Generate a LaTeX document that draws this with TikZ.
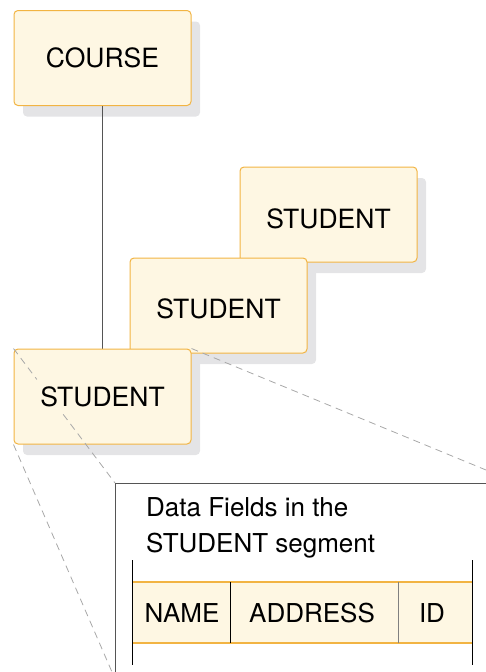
\documentclass[tikz,border=0pt]{standalone}
\usepackage{fontspec}
\setmainfont{TeX Gyre Heros}
\usetikzlibrary{shadows,calc}
\definecolor{BoxFill}{HTML}{FEF7E3}
\definecolor{BoxEdge}{HTML}{F2B443}
\definecolor{ShadowGray}{HTML}{E4E4E6}
\definecolor{LinkGray}{HTML}{555555}
\definecolor{DashGray}{HTML}{A8A8A8}
\tikzset{
  segbox/.style={draw=BoxEdge, fill=BoxFill, line width=1pt, rounded corners=4pt,
    minimum width=177pt, minimum height=95pt, inner sep=0pt,
    font=\fontsize{26.5}{31}\selectfont,
    drop shadow={shadow xshift=9pt, shadow yshift=-11pt, fill=ShadowGray, opacity=1}},
  zoomline/.style={DashGray, line width=0.8pt, dash pattern=on 7pt off 5pt},
  fieldtxt/.style={font=\fontsize{26}{31}\selectfont, inner sep=0pt}
}

\begin{document}
\begin{tikzpicture}[x=1pt,y=-1pt]
    \useasboundingbox (0,0) rectangle (486,672);
    % segments
    \node[segbox] (course) at (102.5,58) {COURSE};
    \node[segbox, text height=28pt] (stud1) at (328.5,214.5) {STUDENT};
    \node[segbox, text height=26pt] (stud2) at (218.5,305.5) {STUDENT};
    \draw[LinkGray, line width=1.2pt] (course.south) -- (102.5,349);
    \node[segbox, text height=21pt] (stud3) at (102.5,396.5) {STUDENT};

    % expanded view
    \coordinate (panel) at (115,483);
    \draw[LinkGray, line width=1pt] (486,483) -- (panel) -- (115,672);
    \draw[zoomline] (stud3.north west) -- ($(stud3.north west)!0.23!(panel)$)
                    ($(stud3.north west)!0.49!(panel)$) -- (panel);
    \draw[zoomline] (stud3.south west) -- (112,672);
    \draw[zoomline] (stud3.north east) -- (486,470);
    \node[anchor=north west, align=left, inner sep=0pt,
          font=\fontsize{26}{36.5}\selectfont] (title) at (146,497)
        {Data Fields in the\\STUDENT segment};

    % field layout
    \fill[BoxFill] (132,582) rectangle (472,643);
    \draw[BoxEdge, line width=1.2pt] (132,582) -- (472,582) (132,643) -- (472,643);
    \draw[black, line width=1pt] (132,560) -- (132,665) (472,560) -- (472,665);
    \draw[black, line width=1pt] (230,582) -- (230,643);
    \draw[gray, line width=1pt] (398,582) -- (398,643);
    \node[fieldtxt] (fname) at (182,613) {NAME};
    \node[fieldtxt] (faddr) at (312,613) {ADDRESS};
    \node[fieldtxt] (fid) at (432,613) {ID};
\end{tikzpicture}
\end{document}
